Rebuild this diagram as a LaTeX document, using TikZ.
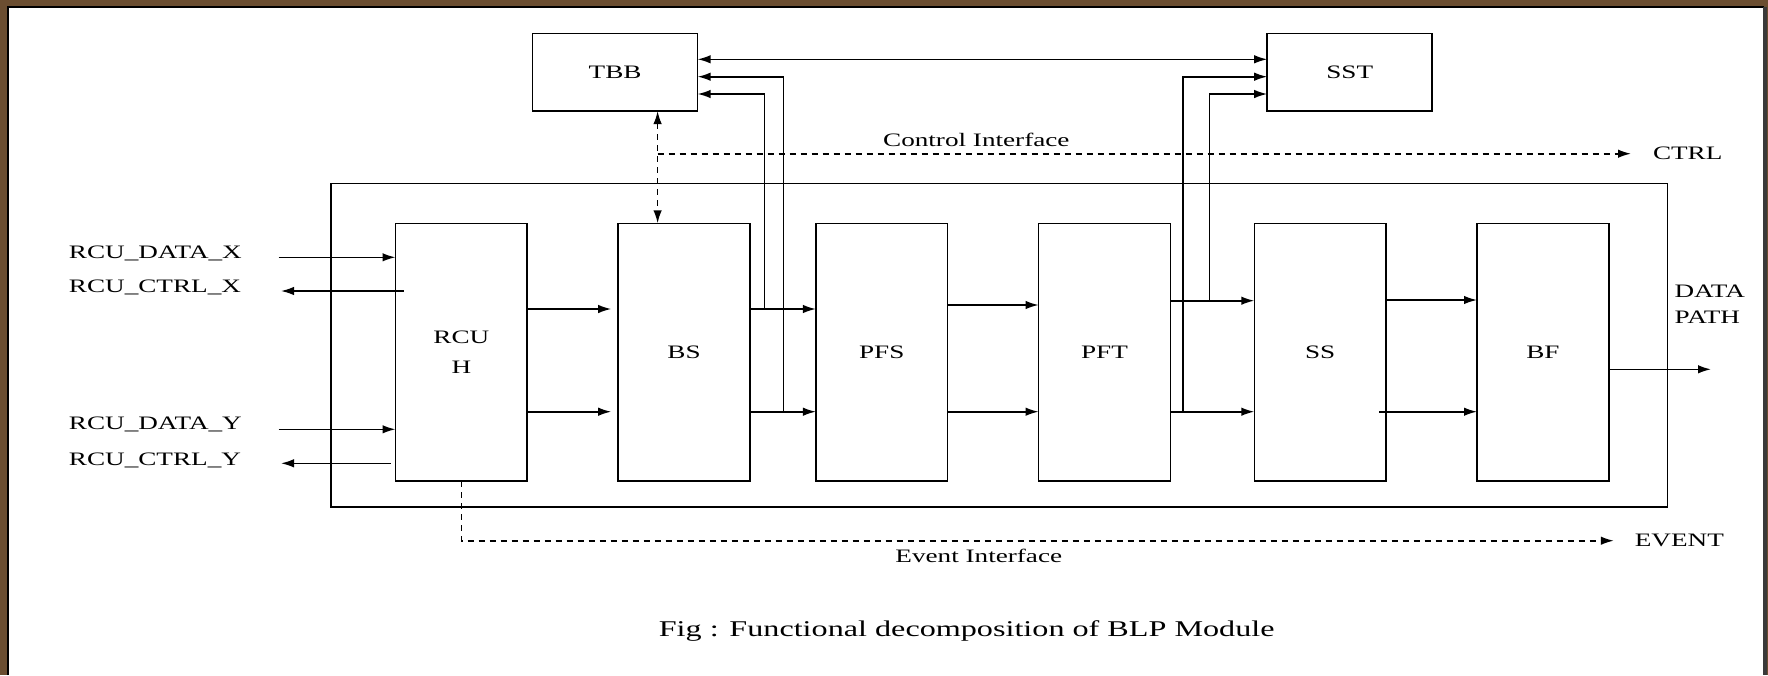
\documentclass[tikz,border=0pt]{standalone}
\usepackage{fontspec}
\setmainfont{Liberation Serif}[FakeStretch=1.43]
\usetikzlibrary{arrows.meta,positioning,calc}
\definecolor{frm}{HTML}{6B4E31}
\definecolor{frmedge}{HTML}{3A3A3A}
\tikzset{
  blk/.style={draw,line width=1.6pt,minimum width=131.7pt,minimum height=257.7pt,inner sep=0pt,outer sep=0pt,align=center},
  ubox/.style={blk,minimum width=165pt,minimum height=77.7pt},
  modbox/.style={blk,minimum width=1336.4pt,minimum height=323.4pt},
  lbl/.style={inner sep=0pt,outer sep=0pt},
  ar/.style={->,>={Latex[length=13pt,width=8.5pt]},line width=1.6pt},
  dar/.style={ar,dash pattern=on 6pt off 5pt},
}

\begin{document}
\begin{tikzpicture}[x=1pt,y=-1pt,every node/.style={font=\fontsize{19}{23}\selectfont}]
\useasboundingbox (0,0) rectangle (1768,675);
\fill[frm] (0,0) rectangle (1768,675);
\fill[white] (8,7) rectangle (1764,675);
\draw[line width=2pt] (8,675) -- (8,7) -- (1764,7);
\fill[frmedge] (1763,7) rectangle (1767,675);
\node[modbox] (blp) at (999.2,345) {};
\node[blk,font=\fontsize{19}{30}\selectfont] (rcuh) at (461.35,352.15) {RCU\\H};
\node[blk,right=91pt of rcuh] (bs) {BS};
\node[blk,right=66pt of bs] (pfs) {PFS};
\node[blk,right=91pt of pfs] (pft) {PFT};
\node[blk,right=84pt of pft] (ss) {SS};
\node[blk,right=91pt of ss] (bf) {BF};
\node[ubox] (tbb) at (615.1,72.2) {TBB};
\node[ubox] (sst) at (1349.7,72.2) {SST};
\node[lbl,anchor=base west] (ldx) at (68.9,258.3) {RCU\_DATA\_X};
\node[lbl,anchor=base west] (lcx) at (68.9,292.8) {RCU\_CTRL\_X};
\node[lbl,anchor=base west] (ldy) at (68.9,429.3) {RCU\_DATA\_Y};
\node[lbl,anchor=base west] (lcy) at (68.9,465) {RCU\_CTRL\_Y};
\node[lbl,anchor=base] (cil) at (976.3,146.7) {Control Interface};
\node[lbl,anchor=base] (eil) at (978.8,562.7) {Event Interface};
\node[lbl,anchor=west] (ctrl) at (1653,153.7) {CTRL};
\node[lbl,anchor=west] (evt) at (1634.8,540.7) {EVENT};
\node[lbl,anchor=north west,align=left,font=\fontsize{19}{26}\selectfont] (dpl) at (1674.6,285) {DATA\\PATH};
\node[lbl,anchor=base,font=\fontsize{22.5}{26}\selectfont] (cap) at (966.7,636.7) {Fig : Functional decomposition of BLP Module};
\coordinate (dxi) at (278.6,257.3);
\coordinate (cxo) at (281,291);
\coordinate (dyi) at (278.6,429.3);
\coordinate (cyo) at (281,463.3);
\draw[ar] (dxi) -- (dxi -| rcuh.west);
\draw[ar] ($(rcuh.west |- cxo)+(8,0)$) -- (cxo);
\draw[ar] (dyi) -- (dyi -| rcuh.west);
\draw[ar] ($(rcuh.west |- cyo)+(-5,0)$) -- (cyo);
\foreach \a/\b/\y/\s in {rcuh/bs/309/7pt,bs/pfs/309/0pt,pfs/pft/305/0pt,pft/ss/300.7/0pt,ss/bf/300/0pt}
  \draw[ar,shorten >=\s] (\a.east |- 0,\y) -- (\b.west |- 0,\y);
\foreach \a/\b/\o/\s in {rcuh/bs/0/7pt,bs/pfs/0/0pt,pfs/pft/0/0pt,pft/ss/0/0pt,ss/bf/-7/0pt}
  \draw[ar,shorten >=\s] ($(\a.east |- 0,411.7)+(\o,0)$) -- (\b.west |- 0,411.7);
\coordinate (tapa) at (764.4,309);
\coordinate (tapb) at (783.5,411.7);
\coordinate (tapc) at (1182.7,411.7);
\coordinate (tapd) at (1209.5,300.7);
\draw[ar] (tapa) |- (tbb.east |- 0,94);
\draw[ar] (tapb) |- (tbb.east |- 0,76.7);
\draw[ar] (tapc) |- (sst.west |- 0,76.7);
\draw[ar] (tapd) |- (sst.west |- 0,94);
\draw[ar,<->] (tbb.east |- 0,59.3) -- (sst.west |- 0,59.3);
\coordinate (cij) at (657.6,153.7);
\draw[dar,<->] (tbb.south -| cij) -- (bs.north -| cij);
\draw[dar] (cij) -- ([xshift=-22pt]ctrl.west);
\draw[dar] (rcuh.south) |- ([xshift=-21pt]evt.west);
\coordinate (dpo) at (1711,369.3);
\draw[ar] (bf.east |- dpo) -- (dpo);
\end{tikzpicture}
\end{document}
